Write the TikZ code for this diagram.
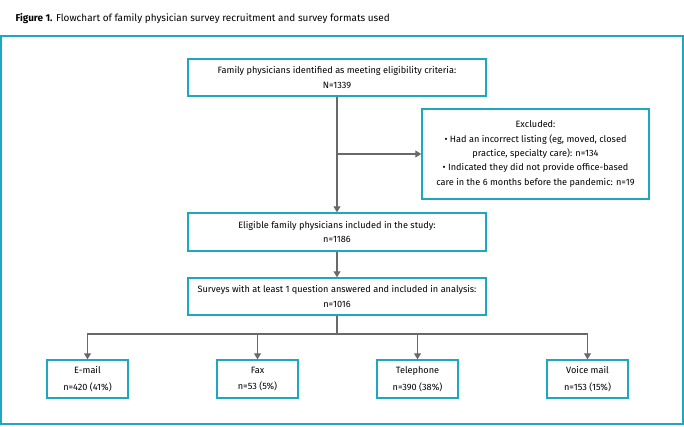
\documentclass[tikz,border=0pt]{standalone}
\usepackage{fontspec}
\setmainfont{Fira Sans}
\usetikzlibrary{arrows.meta}
\definecolor{teal}{RGB}{30,168,192}
\definecolor{arrowgray}{RGB}{105,105,105}
\tikzset{
  box/.style={draw=teal, line width=1.4bp, fill=white, align=center, inner sep=2bp,
    font=\fontsize{9.2}{14.5}\selectfont},
  smallbox/.style={box, minimum width=81bp, minimum height=38bp,
    font=\fontsize{9.2}{16.5}\selectfont},
  conn/.style={draw=arrowgray, line width=1.2bp},
  arr/.style={conn, -{Triangle[length=6bp,width=7bp]}}
}
\begin{document}
\begin{tikzpicture}[x=1bp,y=-1bp]
\useasboundingbox (0,0) rectangle (684,426);
\node[anchor=west, font=\fontsize{10}{12}\selectfont] (title) at (12,19) {\textbf{Figure 1.} Flowchart of family physician survey recruitment and survey formats used};
\draw[teal, line width=2bp] (1,36) rectangle (683,424);

\node[box, minimum width=298bp, minimum height=37bp] (top) at (337,77.5)
  {Family physicians identified as meeting eligibility criteria:\\N=1339};
\node[box, minimum width=227bp, minimum height=90bp] (excl) at (535.5,154)
  {Excluded:\\• Had an incorrect listing (eg, moved, closed\\practice, specialty care): n=134\\• Indicated they did not provide office-based\\care in the 6 months before the pandemic: n=19};
\node[box, minimum width=298bp, minimum height=38bp] (elig) at (337,232)
  {Eligible family physicians included in the study:\\n=1186};
\node[box, minimum width=298bp, minimum height=37bp] (surv) at (337,296.5)
  {Surveys with at least 1 question answered and included in analysis:\\n=1016};
\node[smallbox] (email) at (87.5,379) {E-mail\\n=420 (41\%)};
\node[smallbox] (fax) at (257.5,379) {Fax\\n=53 (5\%)};
\node[smallbox] (tel) at (417.5,379) {Telephone\\n=390 (38\%)};
\node[smallbox] (voice) at (587.5,379) {Voice mail\\n=153 (15\%)};

\coordinate (br) at (337,154);
\coordinate (jn) at (337,334);
\draw[arr] (top.south) -- (elig.north);
\draw[arr] (br) -- (excl.west);
\draw[arr] (elig.south) -- (surv.north);
\draw[conn] (surv.south) -- (jn);
\draw[arr] (jn) -| (email.north);
\draw[arr] (jn) -| (fax.north);
\draw[arr] (jn) -| (tel.north);
\draw[arr] (jn) -| (voice.north);
\end{tikzpicture}
\end{document}
